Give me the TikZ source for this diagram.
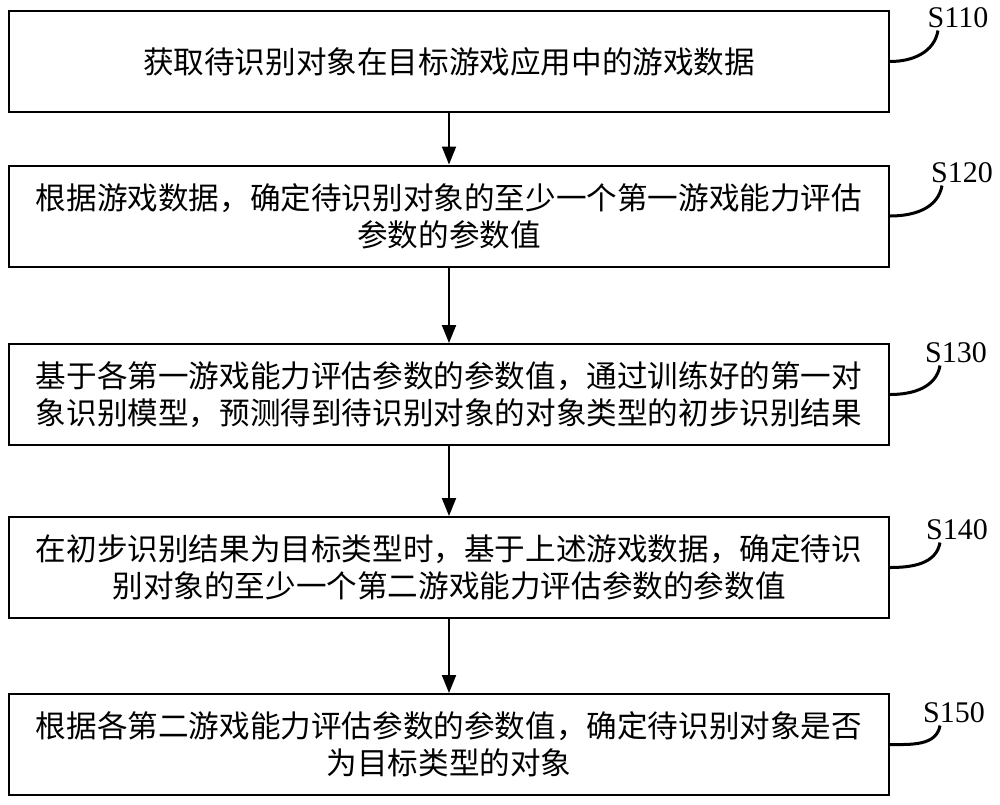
\documentclass[tikz,border=0pt]{standalone}
\usepackage{fontspec}
\setmainfont{Liberation Serif}
\newfontfamily\cjk{Noto Sans CJK SC}
\usetikzlibrary{calc, arrows.meta}
\tikzset{>={Triangle[length=9pt, width=7pt]}}
\tikzset{
  stepbox/.style={draw, line width=1pt, minimum width=440pt, minimum height=50.5pt,
    align=center, font=\cjk\fontsize{15.3pt}{18.5pt}\selectfont},
  steplabel/.style={inner sep=0pt, font=\fontsize{15pt}{18pt}\selectfont},
  leader/.style={line width=1.5pt}
}

\begin{document}
\begin{tikzpicture}[x=0.5pt, y=0.5pt]
    \useasboundingbox (0,0) rectangle (1000,-804);
    \node[stepbox] (b1) at (449,-61.5) {获取待识别对象在目标游戏应用中的游戏数据};
    \node[stepbox] (b2) at (449,-216) {根据游戏数据，确定待识别对象的至少一个第一游戏能力评估\\参数的参数值};
    \node[stepbox] (b3) at (449,-394.5) {基于各第一游戏能力评估参数的参数值，通过训练好的第一对\\象识别模型，预测得到待识别对象的对象类型的初步识别结果};
    \node[stepbox] (b4) at (449,-567.5) {在初步识别结果为目标类型时，基于上述游戏数据，确定待识\\别对象的至少一个第二游戏能力评估参数的参数值};
    \node[stepbox] (b5) at (449,-744.5) {根据各第二游戏能力评估参数的参数值，确定待识别对象是否\\为目标类型的对象};
    % step numbers
    \node[steplabel] (s110) at (958,-18) {S110};
    \node[steplabel] (s120) at (962,-173) {S120};
    \node[steplabel] (s130) at (956,-353) {S130};
    \node[steplabel] (s140) at (957,-530) {S140};
    \node[steplabel] (s150) at (954,-713) {S150};
    \draw[leader] (b1.east) to[out=0, in=-100] ($(s110.south)+(-20,-2)$);
    \draw[leader] (b2.east) to[out=0, in=-100] ($(s120.south)+(-20,-2)$);
    \draw[leader] (b3.east) to[out=0, in=-100] ($(s130.south)+(-16,-2)$);
    \draw[leader] (b4.east) to[out=0, in=-100] ($(s140.south)+(-17,-2)$);
    \draw[leader] (b5.east) to[out=0, in=-100] ($(s150.south)+(-14,-2)$);
    % flow
    \draw[->, line width=1pt] (b1) -- (b2);
    \draw[->, line width=1pt] (b2) -- (b3);
    \draw[->, line width=1pt] (b3) -- (b4);
    \draw[->, line width=1pt] (b4) -- (b5);
\end{tikzpicture}
\end{document}
